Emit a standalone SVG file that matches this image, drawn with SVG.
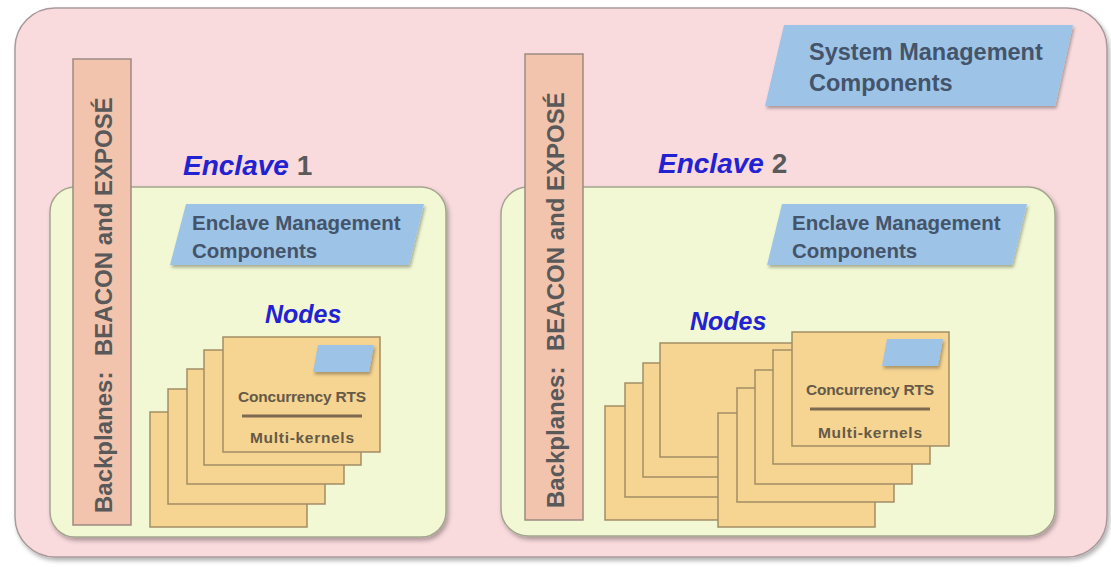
<svg xmlns="http://www.w3.org/2000/svg" width="1111" height="567" viewBox="0 0 1111 567">
  <defs>
    <filter id="shadow" x="-5%" y="-5%" width="110%" height="115%">
      <feDropShadow dx="2" dy="3" stdDeviation="2" flood-color="#000" flood-opacity="0.3"/>
    </filter>
    <filter id="shadowSmall" x="-5%" y="-10%" width="115%" height="130%">
      <feDropShadow dx="1.5" dy="2.5" stdDeviation="1.5" flood-color="#000" flood-opacity="0.3"/>
    </filter>
    <style>
      text { font-family: "Liberation Sans", Arial, sans-serif; font-weight: bold; }
      .system { fill: #f9dadd; stroke: #a89a9c; stroke-width: 1.5; }
      .enclave { fill: #f1f8d3; stroke: #a3a58f; stroke-width: 1.5; }
      .backplane { fill: #f2c4ad; stroke: #9c8a82; stroke-width: 1.5; }
      .mgmt { fill: #9dc3e6; }
      .card { fill: #f6d491; stroke: #a28d66; stroke-width: 1.5; }
      .chip { fill: #9dc3e6; }
      .rule { stroke: #7d6a50; stroke-width: 3; }
      .bp-text { font-size: 24px; fill: #595959; }
      .mgmt-text { fill: #44546a; }
      .title { font-size: 28px; }
      .blue { fill: #2222d2; font-style: italic; }
      .num { fill: #5a5a5a; }
      .nodes { font-size: 25px; fill: #2222d2; font-style: italic; }
      .card-text { font-size: 15.5px; fill: #655a48; text-anchor: middle; }
    </style>
  </defs>

  <!-- whole system container -->
  <g id="system">
    <rect class="system" x="15" y="8" width="1092" height="549" rx="40" filter="url(#shadow)"/>
  </g>

  <!-- system-level management -->
  <g id="system-management">
    <polygon class="mgmt" points="784,25 1073,25 1055,106 765,106" filter="url(#shadowSmall)"/>
    <text class="mgmt-text" font-size="23.5">
      <tspan x="809" y="60">System Management</tspan>
      <tspan x="809" y="91">Components</tspan>
    </text>
  </g>

  <!-- enclave 1 -->
  <g id="enclave-1">
    <rect class="enclave" x="50" y="187" width="396" height="350" rx="25" filter="url(#shadow)"/>
    <text class="title" x="183" y="175"><tspan class="blue">Enclave</tspan><tspan class="num"> 1</tspan></text>
    <g id="enclave-1-management">
      <polygon class="mgmt" points="186,204 424,204 409,265 170,265" filter="url(#shadowSmall)"/>
      <text class="mgmt-text" font-size="20.5">
        <tspan x="192" y="230">Enclave Management</tspan>
        <tspan x="192" y="258">Components</tspan>
      </text>
    </g>
    <g id="enclave-1-nodes">
      <text class="nodes" x="265" y="323">Nodes</text>
      <rect class="card" x="150" y="412" width="157" height="115"/>
      <rect class="card" x="168" y="389" width="157" height="115"/>
      <rect class="card" x="187" y="369" width="157" height="115"/>
      <rect class="card" x="204" y="350" width="157" height="115"/>
      <rect class="card" x="223" y="337" width="157" height="115"/>
      <polygon class="chip" points="318,345 374,345 369,372 313,372" filter="url(#shadowSmall)"/>
      <text class="card-text" x="302" y="402" textLength="128">Concurrency RTS</text>
      <line class="rule" x1="242" y1="416" x2="362" y2="416"/>
      <text class="card-text" x="302" y="443" textLength="104">Multi-kernels</text>
    </g>
  </g>

  <!-- enclave 2 -->
  <g id="enclave-2">
    <rect class="enclave" x="501" y="187" width="554" height="349" rx="27" filter="url(#shadow)"/>
    <text class="title" x="658" y="173"><tspan class="blue">Enclave</tspan><tspan class="num"> 2</tspan></text>
    <g id="enclave-2-management">
      <polygon class="mgmt" points="782,204 1027,204 1012,265 767,265" filter="url(#shadowSmall)"/>
      <text class="mgmt-text" font-size="20.5">
        <tspan x="792" y="230">Enclave Management</tspan>
        <tspan x="792" y="258">Components</tspan>
      </text>
    </g>
    <g id="enclave-2-nodes">
      <text class="nodes" x="690" y="330">Nodes</text>
      <!-- rear stack -->
      <rect class="card" x="605" y="406" width="157" height="114"/>
      <rect class="card" x="625" y="383" width="157" height="114"/>
      <rect class="card" x="643" y="363" width="157" height="114"/>
      <rect class="card" x="660" y="343" width="157" height="114"/>
      <!-- front stack -->
      <rect class="card" x="718" y="413" width="157" height="114"/>
      <rect class="card" x="737" y="388" width="157" height="114"/>
      <rect class="card" x="755" y="370" width="157" height="114"/>
      <rect class="card" x="773" y="350" width="157" height="114"/>
      <rect class="card" x="792" y="332" width="157" height="114"/>
      <polygon class="chip" points="887,339 943,339 938,366 882,366" filter="url(#shadowSmall)"/>
      <text class="card-text" x="870" y="395" textLength="128">Concurrency RTS</text>
      <line class="rule" x1="810" y1="409" x2="930" y2="409"/>
      <text class="card-text" x="870" y="438" textLength="104">Multi-kernels</text>
    </g>
  </g>

  <!-- backplanes spanning each enclave -->
  <g id="backplane-1">
    <rect class="backplane" x="73" y="59" width="58" height="466"/>
    <text class="bp-text" transform="translate(112,513) rotate(-90)"><tspan>Backplanes:</tspan><tspan x="157">BEACON and EXPOSÉ</tspan></text>
  </g>
  <g id="backplane-2">
    <rect class="backplane" x="525" y="54" width="58" height="466"/>
    <text class="bp-text" transform="translate(564,508) rotate(-90)"><tspan>Backplanes:</tspan><tspan x="157">BEACON and EXPOSÉ</tspan></text>
  </g>

  <g id="connectors"/>
</svg>
